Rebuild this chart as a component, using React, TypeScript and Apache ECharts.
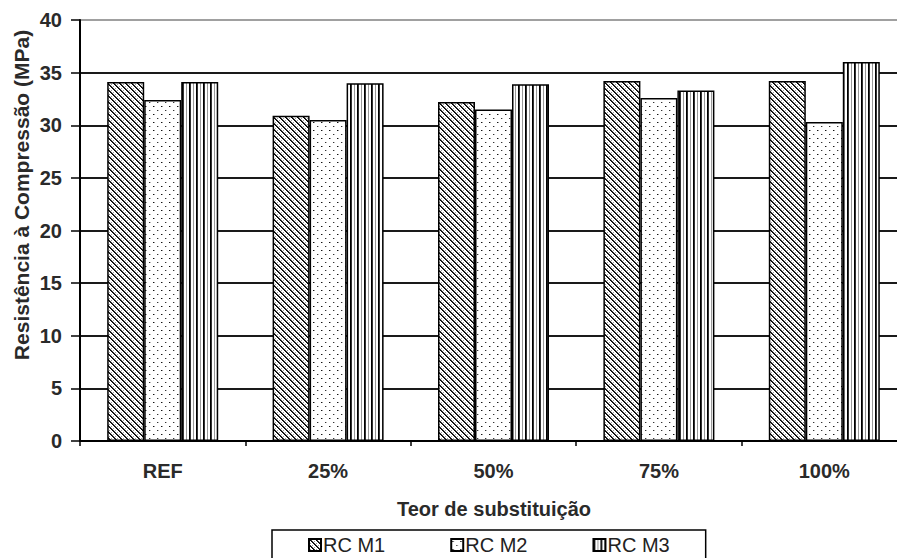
import React, { useEffect, useRef } from 'react';
import * as echarts from 'echarts';

const categories = ['REF', '25%', '50%', '75%', '100%'];
const seriesNames = ['RC M1', 'RC M2', 'RC M3'];
const rcM1 = [34.1, 30.9, 32.2, 34.2, 34.2];
const rcM2 = [32.4, 30.5, 31.5, 32.6, 30.3];
const rcM3 = [34.1, 34.0, 33.9, 33.3, 36.0];
const yMin = 0;
const yMax = 40;
const yStep = 5;
const xTitle = 'Teor de substituição';
const yTitle = 'Resistência à Compressão (MPa)';

const FONT = '"Liberation Sans", Arial, sans-serif';

function makeTile(w: number, h: number, draw: (ctx: CanvasRenderingContext2D) => void) {
  const c = document.createElement('canvas');
  c.width = w;
  c.height = h;
  const ctx = c.getContext('2d') as CanvasRenderingContext2D;
  ctx.fillStyle = '#ffffff';
  ctx.fillRect(0, 0, w, h);
  draw(ctx);
  return { image: c.toDataURL(), repeat: 'repeat', imageWidth: w, imageHeight: h };
}

function px(ctx: CanvasRenderingContext2D, x: number, y: number, color: string) {
  ctx.fillStyle = color;
  ctx.fillRect(x, y, 1, 1);
}

export default function App() {
  const ref = useRef<HTMLDivElement>(null);
  useEffect(() => {
    if (!ref.current) return;
    const chart = echarts.init(ref.current, undefined, { renderer: 'svg' });

    const hatch = makeTile(6, 6, (ctx) => {
      for (let y = 0; y < 6; y++) {
        for (let x = 0; x < 6; x++) {
          const d = (x - y + 12) % 6;
          if (d === 0) px(ctx, x, y, '#000');
          else if (d === 1) px(ctx, x, y, '#3a3a3a');
          else if (d === 3 && y % 2 === 0) px(ctx, x, y, '#999');
        }
      }
    });
    const dots = makeTile(8, 8, (ctx) => {
      px(ctx, 1, 2, '#111');
      px(ctx, 2, 2, '#999');
      px(ctx, 5, 6, '#333');
      px(ctx, 6, 6, '#bbb');
    });
    const vlines = makeTile(7, 2, (ctx) => {
      for (let y = 0; y < 2; y++) {
        px(ctx, 0, y, '#000');
        px(ctx, 1, y, '#333');
        px(ctx, 4, y, '#999');
      }
    });
    const fills = [hatch, dots, vlines];
    const datas = [rcM1, rcM2, rcM3];

    const gridColors: string[] = [];
    for (let v = yMin; v <= yMax; v += yStep) gridColors.push(v === yMax ? '#a0a0a0' : '#1a1a1a');

    chart.setOption({
      animation: false,
      backgroundColor: '#ffffff',
      grid: { left: 80, top: 20, right: 3, bottom: 117, containLabel: false },
      legend: {
        data: seriesNames,
        left: 272,
        top: 530,
        orient: 'horizontal',
        icon: 'rect',
        itemWidth: 12,
        itemHeight: 12,
        itemGap: 65,
        padding: [5, 36, 20, 36],
        borderColor: '#000',
        borderWidth: 1.5,
        textStyle: { fontFamily: FONT, fontSize: 20, color: '#222', padding: [0, 0, 0, -3] },
      },
      xAxis: {
        type: 'category',
        data: categories,
        boundaryGap: true,
        axisLine: { show: true, lineStyle: { color: '#000', width: 2 } },
        axisTick: { show: true, length: 5, lineStyle: { color: '#000', width: 1.5 } },
        axisLabel: { fontFamily: FONT, fontWeight: 'bold', fontSize: 20, color: '#2a2a2a', margin: 20 },
        splitLine: { show: false },
      },
      yAxis: {
        type: 'value',
        min: yMin,
        max: yMax,
        interval: yStep,
        axisLine: { show: true, lineStyle: { color: '#000', width: 2 } },
        axisTick: { show: true, inside: false, length: 9, lineStyle: { color: '#000', width: 1.5 } },
        axisLabel: { fontFamily: FONT, fontWeight: 'bold', fontSize: 20, color: '#2a2a2a', margin: 18 },
        splitLine: { show: true, lineStyle: { color: gridColors, width: 2 } },
      },
      graphic: [
        {
          type: 'text',
          x: 21,
          y: 195,
          rotation: Math.PI / 2,
          style: {
            text: yTitle,
            font: 'bold 21px ' + FONT,
            fill: '#2a2a2a',
            align: 'center',
            verticalAlign: 'middle',
          },
        },
        {
          type: 'text',
          x: 494,
          y: 509,
          style: {
            text: xTitle,
            font: 'bold 20px ' + FONT,
            fill: '#2a2a2a',
            align: 'center',
            verticalAlign: 'middle',
          },
        },
      ],
      series: seriesNames.map((name, i) => ({
        name,
        type: 'bar',
        data: datas[i],
        barWidth: 37,
        barGap: '0%',
        itemStyle: { color: fills[i], borderColor: '#000', borderWidth: 1.5 },
        emphasis: { disabled: true },
      })),
    });
    return () => chart.dispose();
  }, []);
  return (
    <div
      style={{ position: 'fixed', left: 0, top: 0, width: 897, height: 558, overflow: 'hidden', background: '#fff' }}
    >
      <div ref={ref} style={{ width: 910, height: 558 }} />
    </div>
  );
}
